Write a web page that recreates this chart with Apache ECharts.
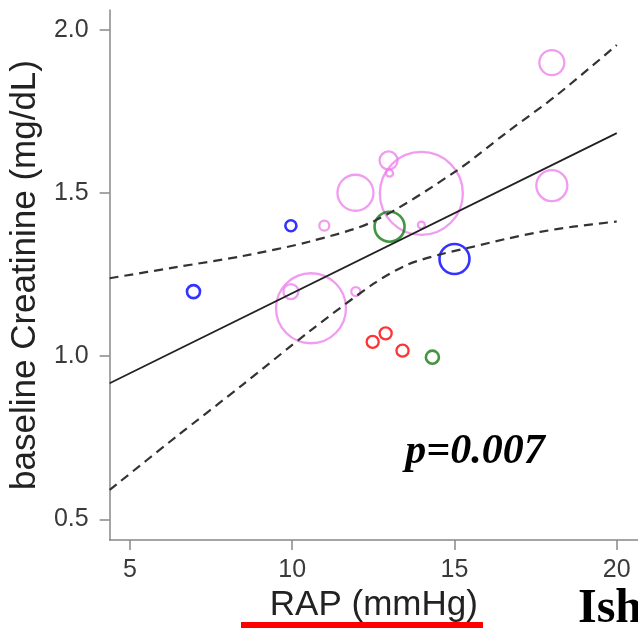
<!DOCTYPE html>
<html>
<head>
<meta charset="utf-8">
<script src="https://cdn.jsdelivr.net/npm/echarts@6/dist/echarts.min.js"></script>
<style>
  html, body { margin: 0; padding: 0; background: #fff; }
  #chart { width: 638px; height: 628px; }
</style>
</head>
<body>
<div id="chart"></div>
<script>
// ---- data ----
const xTicks = [5, 10, 15, 20];
const yTicks = [0.5, 1.0, 1.5, 2.0];

// bubble groups: RAP (mmHg), baseline creatinine (mg/dL), bubble weight
const pinkX = [18, 18, 13.98, 11.95, 12.97, 13.0, 10.99, 13.98, 10.58, 9.96, 11.96];
const pinkY = [1.90, 1.523, 1.499, 1.501, 1.60, 1.561, 1.40, 1.402, 1.147, 1.198, 1.198];
const pinkW = [7.7, 11.9, 85, 16, 4, 0.6, 1.23, 0.6, 60.5, 2.8, 1.0];

const blueX = [6.96, 9.96, 15.0];
const blueY = [1.198, 1.40, 1.298];
const blueW = [2.1, 1.5, 11.1];

const greenX = [13.0, 14.32];
const greenY = [1.397, 0.997];
const greenW = [11.1, 2.1];

const redX = [12.48, 12.88, 13.40];
const redY = [1.044, 1.070, 1.017];
const redW = [1.8, 1.8, 1.8];

// regression fit and 95% confidence band
const fitX = [4.377, 20];
const fitY = [0.917, 1.684];
const upperX = [4.377, 6.425, 8.47, 10.52, 12.52, 15.07, 16.61, 18.15, 20];
const upperY = [1.239, 1.273, 1.307, 1.351, 1.414, 1.569, 1.686, 1.800, 1.954];
const lowerX = [4.377, 6.425, 8.47, 10.52, 12.52, 13.54, 14.56, 15.59, 16.61, 17.64, 18.66, 20];
const lowerY = [0.590, 0.753, 0.912, 1.075, 1.223, 1.280, 1.312, 1.336, 1.360, 1.381, 1.397, 1.413];

const pText = 'p=0.007';
const xName = 'RAP (mmHg)';
const yName = 'baseline Creatinine (mg/dL)';

// ---- build ----
const zip3 = (a, b, c) => a.map((v, i) => [v, b[i], c[i]]);
const zip2 = (a, b) => a.map((v, i) => [v, b[i]]);
const sizeOf = v => 9 * Math.sqrt(v[2]);

function bubbles(name, xs, ys, ws, color, bw) {
  return {
    name, type: 'scatter', data: zip3(xs, ys, ws), symbol: 'circle',
    symbolSize: sizeOf,
    itemStyle: { color: 'rgba(0,0,0,0)', borderColor: color, borderWidth: bw },
    emphasis: { disabled: true }, z: 3
  };
}

const chart = echarts.init(document.getElementById('chart'), null, { renderer: 'canvas' });
const axisText = { color: '#3a3a3a', fontFamily: 'Liberation Sans, Arial, sans-serif', fontSize: 25 };

chart.setOption({
  animation: false,
  backgroundColor: '#fff',
  grid: { left: 108, right: 0, top: 10, bottom: 88, containLabel: false },
  xAxis: {
    type: 'value', min: 4.377, max: 20.654,
    name: xName, nameLocation: 'middle', nameGap: 47,
    nameTextStyle: { color: '#222', fontFamily: 'Liberation Sans, Arial, sans-serif', fontSize: 35 },
    axisLine: { show: true, onZero: false, lineStyle: { color: '#888', width: 1.5 } },
    axisTick: { show: true, length: 10, customValues: xTicks, lineStyle: { color: '#888', width: 1.5 } },
    axisLabel: Object.assign({ margin: 18, customValues: xTicks, formatter: v => String(v) }, axisText),
    splitLine: { show: false }
  },
  yAxis: {
    type: 'value', min: 0.4365, max: 2.0613,
    name: yName, nameLocation: 'middle', nameGap: 53, nameRotate: 90,
    nameTextStyle: { color: '#222', fontFamily: 'Liberation Sans, Arial, sans-serif', fontSize: 35 },
    axisLine: { show: true, onZero: false, lineStyle: { color: '#888', width: 1.5 } },
    axisTick: { show: true, length: 10, customValues: yTicks, lineStyle: { color: '#888', width: 1.5 } },
    axisLabel: Object.assign({ margin: 21, customValues: yTicks, formatter: v => v.toFixed(1) }, axisText),
    splitLine: { show: false }
  },
  series: [
    bubbles('pink', pinkX, pinkY, pinkW, '#ee82ee', 2.3),
    bubbles('blue', blueX, blueY, blueW, '#0000ff', 2.6),
    bubbles('green', greenX, greenY, greenW, '#137a13', 2.6),
    bubbles('red', redX, redY, redW, '#ff0000', 2.3),
    { type: 'line', data: zip2(fitX, fitY), symbol: 'none', silent: true, z: 4,
      lineStyle: { color: '#222', width: 1.8 } },
    { type: 'line', data: zip2(upperX, upperY), symbol: 'none', smooth: 0.3, silent: true, z: 4,
      lineStyle: { color: '#333', width: 2.2, type: [9, 6] } },
    { type: 'line', data: zip2(lowerX, lowerY), symbol: 'none', smooth: 0.3, silent: true, z: 4,
      lineStyle: { color: '#333', width: 2.2, type: [9, 6] } }
  ],
  graphic: [
    { type: 'text', x: 475, y: 452, style: { text: pText, align: 'center', verticalAlign: 'middle',
        font: 'italic bold 42px "Liberation Serif", "Times New Roman", serif', fill: '#000' } },
    { type: 'rect', shape: { x: 241, y: 622, width: 242, height: 6 }, style: { fill: '#ff0000' } },
    { type: 'text', x: 578, y: 610, style: { text: 'Ish', align: 'left', verticalAlign: 'middle',
        font: 'bold 48px "Liberation Serif", "Times New Roman", serif', fill: '#000' } }
  ]
});
</script>
</body>
</html>
